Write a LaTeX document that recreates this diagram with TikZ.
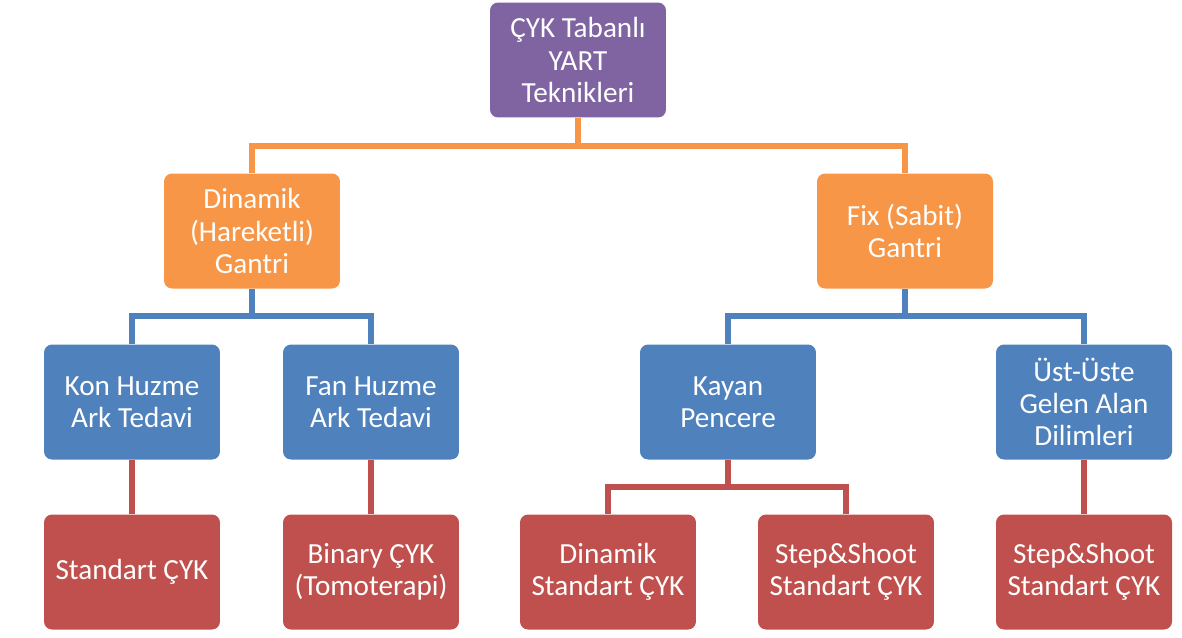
\documentclass[tikz,border=0pt]{standalone}
\usepackage{fontspec}
\setmainfont{Carlito}
\usepackage{tikz}
\usetikzlibrary{positioning,calc}
\definecolor{rootpurple}{HTML}{8064A2}
\definecolor{gantryorange}{HTML}{F79646}
\definecolor{techblue}{HTML}{4F81BD}
\definecolor{leafred}{HTML}{C0504D}

\begin{document}
\begin{tikzpicture}[x=0.02cm,y=-0.02cm,
  box/.style={rectangle,rounded corners=1.6mm,draw=none,text=white,
    minimum width=3.52cm,minimum height=2.3cm,inner sep=0pt,align=center,
    font=\fontsize{16.6}{18.3}\selectfont},
  link/.style={line width=3pt,draw=#1}
]
  \useasboundingbox (0,0) rectangle (1182,637);

  % levels of the tree
  \node[box,fill=rootpurple] (root) at (578,60) {ÇYK Tabanlı\\YART\\Teknikleri};

  \node[box,fill=gantryorange] (dyn) at (252,231) {Dinamik\\(Hareketli)\\Gantri};
  \node[box,fill=gantryorange] (fix) at (905,231) {Fix (Sabit)\\Gantri};

  \node[box,fill=techblue] (kon) at (132,402) {Kon Huzme\\Ark Tedavi};
  \node[box,fill=techblue] (fan) at (371,402) {Fan Huzme\\Ark Tedavi};
  \node[box,fill=techblue] (kayan) at (728,402) {Kayan\\Pencere};
  \node[box,fill=techblue] (ust) at (1084,402) {Üst-Üste\\Gelen Alan\\Dilimleri};

  \node[box,fill=leafred] (std) at (132,572) {Standart ÇYK};
  \node[box,fill=leafred] (bin) at (371,572) {Binary ÇYK\\(Tomoterapi)};
  \node[box,fill=leafred] (dstd) at (608,572) {Dinamik\\Standart ÇYK};
  \node[box,fill=leafred] (ss1) at (846,572) {Step\&Shoot\\Standart ÇYK};
  \node[box,fill=leafred] (ss2) at (1084,572) {Step\&Shoot\\Standart ÇYK};

  % connectors
  \coordinate (jroot) at (578,146);
  \draw[link=gantryorange] (root.south) -- (jroot) -| (dyn.north);
  \draw[link=gantryorange] (jroot) -| (fix.north);

  \coordinate (jdyn) at (252,316);
  \draw[link=techblue] (dyn.south) -- (jdyn) -| (kon.north);
  \draw[link=techblue] (jdyn) -| (fan.north);
  \coordinate (jfix) at (905,316);
  \draw[link=techblue] (fix.south) -- (jfix) -| (kayan.north);
  \draw[link=techblue] (jfix) -| (ust.north);

  \draw[link=leafred] (kon.south) -- (std.north);
  \draw[link=leafred] (fan.south) -- (bin.north);
  \coordinate (jkayan) at (728,487);
  \draw[link=leafred] (kayan.south) -- (jkayan) -| (dstd.north);
  \draw[link=leafred] (jkayan) -| (ss1.north);
  \draw[link=leafred] (ust.south) -- (ss2.north);
\end{tikzpicture}
\end{document}
